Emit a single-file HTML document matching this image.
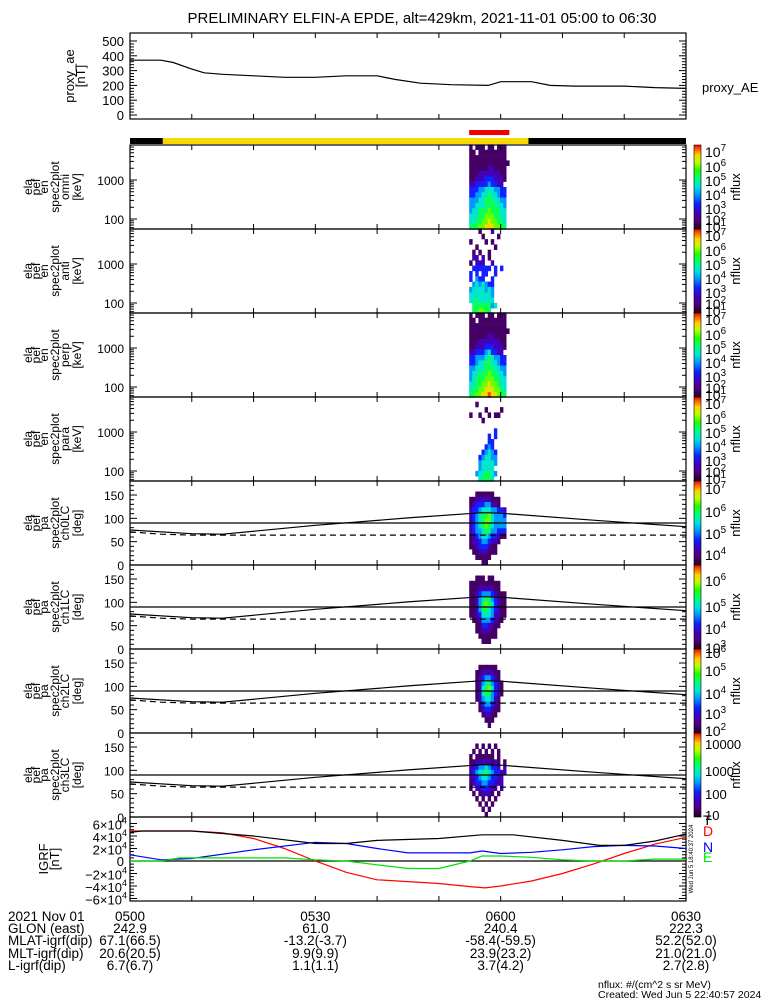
<!DOCTYPE html>
<html><head><meta charset="utf-8"><style>
html,body{margin:0;padding:0;background:#fff}
svg{display:block;font-family:"Liberation Sans",sans-serif}
</style></head><body>
<svg id="c" width="775" height="1000" viewBox="0 0 775 1000" xmlns="http://www.w3.org/2000/svg">
<defs>
<linearGradient id="cb" x1="0" y1="1" x2="0" y2="0">
<stop offset="0" stop-color="#1a0018"/><stop offset="0.1" stop-color="#50007a"/><stop offset="0.2" stop-color="#4000c0"/>
<stop offset="0.3" stop-color="#1020ff"/><stop offset="0.4" stop-color="#0090ff"/><stop offset="0.5" stop-color="#00e0e0"/>
<stop offset="0.6" stop-color="#00ff80"/><stop offset="0.7" stop-color="#20ff00"/><stop offset="0.8" stop-color="#c0ff00"/>
<stop offset="0.88" stop-color="#ffd000"/><stop offset="0.94" stop-color="#ff7000"/><stop offset="1" stop-color="#ff0000"/>
</linearGradient>
</defs>
<text x="422" y="23" font-size="15" text-anchor="middle">PRELIMINARY ELFIN-A EPDE, alt=429km, 2021-11-01 05:00 to 06:30</text>
</svg>
<script>
// ---------- data ----------
const aeTimes = [0,5,7,10,12,15,20,25,30,35,40,43,47,52,58,60,65,68,72,80,85,90];
const aeValues = [370,370,355,310,285,275,265,255,255,265,265,240,215,205,200,225,225,200,195,195,185,180];
const aeTicks = [0,100,200,300,400,500];

const specTimes = [54.9,55.4,55.9,56.4,56.9,57.4,57.9,58.4,58.9,59.4,59.9,60.4,60.9];
const energies = [6990,5100,3720,2720,1990,1450,1060,775,566,414,302,221,161,118,86,63];
const pitchAngles = [174.4,163.1,151.9,140.6,129.4,118.1,106.9,95.6,84.4,73.1,61.9,50.6,39.4,28.1,16.9,5.6];
const energyTicks = [100,1000];
const paTicks = [0,50,100,150];

const omniLevels = ["1011101101110","1101111111110","1111111111110","1111111111111","1111112211110","1112222222110","1122233322210","2233334332200","3334455544330","3344556554330","4445566655440","4455566665540","4556667666550","5556677766550","5566778776650","6667788877660"];
const antiLevels = ["0001000200000","0000100001000","1000010100000","0010000010000","0101001000000","0220201000000","1022200200000","0333333030300","3030330030000","3043300300000","0454543300000","4555545400000","5555555400000","5565555500000","0666666450000","0667766000000"];
const perpLevels = ["1011101101110","1101111111110","1111111111110","1111111111111","1111112211110","1112222222110","1122233322210","2233345332200","3344456544330","3345566554330","4455566655440","4556667665540","4566677766550","5566778776550","5667788877650","6677889887660"];
const paraLevels = ["0000000000000","0010000000000","0000010000100","1001001011000","0000100000000","0000000000000","0000000030000","0000003030000","0000003300000","0000034300000","0000345430000","0003455440000","0004555540000","0004555500000","0045566540000","0005666500000"];
const ch0Levels = ["0000000000000","0000000000000","0011111100000","1122222111000","1233344221000","2334555443320","2345667544430","2345677544440","2345676544440","2344566443330","1234554332110","1223443221000","1123332110000","0112221110000","0011111000000","0000110000000"];
const ch1Levels = ["0000000000000","0000000000000","0011101100000","1111111111000","1112222211000","1123444321110","1124566432110","1124676532110","1124665432110","1123555422110","0112444321100","0011332211000","0011222110000","0001111110000","0000111000000","0000000000000"];
const ch2Levels = ["0000000000000","0000000000000","0000000000000","0001111110000","0011222211000","0012344321000","0012456432100","0012567532100","0012566432100","0012455421000","0001344321000","0001233211000","0000122110000","0000011100000","0000001000000","0000000000000"];
const ch3Levels = ["0000000000000","0000000000000","0010101010000","0101010101000","1011111101000","1122222121010","2234454332020","2345565433220","2234554332200","1233443322200","1022332220200","0101222101000","0010101010000","0001010100000","0000101000000","0000010000000"];

const lcTimes = [0,10,15,30,45,57,60,75,90];
const lcValues = [75,67,66,85,101,112,111,96,82];
const alcTimes = [0,5,10,90];
const alcValues = [71,66,64,64];

const igrfTimes = [0,2,10,20,30,35,40,50,57,62,70,76,80,85,90];
const igrfT = [4.6,4.8,4.8,4.0,2.8,2.8,3.3,3.6,4.2,4.2,3.3,2.5,2.5,3.2,4.3];
const dTimes = [0,10,15,20,25,30,35,40,45,50,55,57.5,60,65,70,75,80,85,90];
const igrfD = [4.8,4.8,4.5,3.6,2.0,0,-1.8,-3.0,-3.3,-3.6,-4.1,-4.3,-4.0,-3.2,-2.0,-0.5,1.2,2.7,3.8];
const nTimes = [0,5,10,20,30,35,40,45,50,55,57,60,65,70,75,80,85,90];
const igrfN = [1.0,0.2,0.4,1.8,3.0,2.8,2.0,1.3,1.3,1.3,1.6,1.2,1.4,1.8,2.3,2.5,2.4,2.0];
const eTimes = [0,5,8,15,25,30,35,40,45,50,55,57,60,65,70,75,80,85,90];
const igrfE = [0,0,0.5,0.5,0.5,0.2,0,-0.6,-1.2,-1.2,0,0.8,0.8,0.6,0.2,0,0,0.3,0.3];
const igrfTicks = [-6,-4,-2,0,2,4,6];

const footLabels = ["2021 Nov 01","GLON (east)","MLAT-igrf(dip)","MLT-igrf(dip)","L-igrf(dip)"];
const footTimes = [0,30,60,90];
const footCols = [
 ["0500","242.9","67.1(66.5)","20.6(20.5)","6.7(6.7)"],
 ["0530","61.0","-13.2(-3.7)","9.9(9.9)","1.1(1.1)"],
 ["0600","240.4","-58.4(-59.5)","23.9(23.2)","3.7(4.2)"],
 ["0630","222.3","52.2(52.0)","21.0(21.0)","2.7(2.8)"]];

// ---------- helpers ----------
const svg = document.getElementById('c');
const NS = 'http://www.w3.org/2000/svg';
function mk(tag, attrs, parent){ const e=document.createElementNS(NS,tag); for(const k in attrs) e.setAttribute(k,attrs[k]); (parent||svg).appendChild(e); return e; }
const X0=130, X1=686;
function xT(t){ return X0 + t*(X1-X0)/90; }
const PH=84;
const panelTops=[145,229,313,397,481,565,649,733];
function yE(p,E){ return panelTops[p]+74-39*(Math.log10(E)-2); }
function yPA(p,a){ return panelTops[p]+PH-a*PH/180; }
function yAE(v){ return 115 - v*0.148; }
function yIG(v){ return 861 - v*6.25; }
const stops=[[0,[26,0,24]],[0.1,[80,0,122]],[0.2,[64,0,192]],[0.3,[16,32,255]],[0.4,[0,144,255]],[0.5,[0,224,224]],[0.6,[0,255,128]],[0.7,[32,255,0]],[0.8,[192,255,0]],[0.88,[255,208,0]],[0.94,[255,112,0]],[1,[255,0,0]]];
function cmap(f){ for(let i=1;i<stops.length;i++){ if(f<=stops[i][0]){ const a=stops[i-1],b=stops[i]; const u=(f-a[0])/(b[0]-a[0]); const c=a[1].map((v,k)=>Math.round(v+(b[1][k]-v)*u)); return 'rgb('+c.join(',')+')'; } } return 'rgb(255,0,0)'; }
function polyline(ts,vs,yf,color,name,dash){ const pts=ts.map((t,i)=>xT(t).toFixed(1)+','+yf(vs[i]).toFixed(1)).join(' '); const e=mk('polyline',{points:pts,fill:'none',stroke:color,'stroke-width':1.2}); if(dash) e.setAttribute('stroke-dasharray',dash);
 
 
 return e; }
function sup(parent,x,y,base,exp,anchor,size){ const t=mk('text',{x:x,y:y,'font-size':size||13,'text-anchor':anchor||'start'},parent); t.appendChild(document.createTextNode(base)); const s=mk('tspan',{dy:-6,'font-size':(size||13)*0.7},t); s.textContent=exp; return t; }
function leftLabel(lines,cy,xs,size,name){ const g=mk('g',{});   lines.forEach((l,i)=>{ const t=mk('text',{x:0,y:0,'font-size':size,'text-anchor':'middle',transform:'translate('+xs[i]+','+cy+') rotate(-90)'},g); t.textContent=l; }); }
function frame(top,h,name){ const r=mk('rect',{x:X0,y:top,width:X1-X0,height:h,fill:'none',stroke:'#000','stroke-width':1.2});
 
 
 for(let t=10;t<90;t+=10){ mk('line',{x1:xT(t),x2:xT(t),y1:top,y2:top+5,stroke:'#000'}); mk('line',{x1:xT(t),x2:xT(t),y1:top+h,y2:top+h-5,stroke:'#000'}); } }
function ytick(y,len){ mk('line',{x1:X0,x2:X0+len,y1:y,y2:y,stroke:'#000'}); mk('line',{x1:X1,x2:X1-len,y1:y,y2:y,stroke:'#000'}); }

// ---------- proxy AE panel ----------
frame(33,86,'proxy-ae-panel');
for(let v=0;v<=500;v+=20){ ytick(yAE(v), v%100===0?7:4); }
aeTicks.forEach(v=>{ const t=mk('text',{x:124,y:yAE(v)+5,'font-size':13,'text-anchor':'end'}); t.textContent=v;
 
  });
polyline(aeTimes,aeValues,yAE,'#000','proxy-ae-line');
leftLabel(['proxy_ae','[nT]'],76,[74,85],13,'proxy-ae-axis-title');
{ const t=mk('text',{x:702,y:92,'font-size':13}); t.textContent='proxy_AE';   }

// ---------- orbit bar ----------
{ const r1=mk('rect',{x:X0,y:138,width:X1-X0,height:6,fill:'#000'});  
  const r2=mk('rect',{x:xT(5.3),y:138,width:xT(64.5)-xT(5.3),height:6,fill:'#f8d800'});  
  const r3=mk('rect',{x:xT(specTimes[0]),y:130,width:xT(specTimes[12]+0.5)-xT(specTimes[0]),height:5,fill:'#f00000'});   }

// ---------- spectrogram panels ----------
const eCb=[[7,3],[6,18],[5,32],[4,46],[3,60],[2,71],[1,78]];
const specPanels=[
 {lv:omniLevels,kind:'E',lab:['ela','pef','en','spec2plot','omni','[keV]'],cb:eCb,name:'omni'},
 {lv:antiLevels,kind:'E',lab:['ela','pef','en','spec2plot','anti','[keV]'],cb:eCb,name:'anti'},
 {lv:perpLevels,kind:'E',lab:['ela','pef','en','spec2plot','perp','[keV]'],cb:eCb,name:'perp'},
 {lv:paraLevels,kind:'E',lab:['ela','pef','en','spec2plot','para','[keV]'],cb:eCb,name:'para'},
 {lv:ch0Levels,kind:'P',lab:['ela','pef','pa','spec2plot','ch0LC','[deg]'],cb:[[7,4],[6,27],[5,49],[4,70]],name:'ch0'},
 {lv:ch1Levels,kind:'P',lab:['ela','pef','pa','spec2plot','ch1LC','[deg]'],cb:[[6,12],[5,38],[4,60],[3,79]],name:'ch1'},
 {lv:ch2Levels,kind:'P',lab:['ela','pef','pa','spec2plot','ch2LC','[deg]'],cb:[[6,0],[5,18],[4,41],[3,61],[2,78]],name:'ch2'},
 {lv:ch3Levels,kind:'P',lab:['ela','pef','pa','spec2plot','ch3LC','[deg]'],cb:[['10000',11],['1000',38],['100',61],['10',82]],name:'ch3'}];

specPanels.forEach((P,p)=>{
 const top=panelTops[p];
 const g=mk('g',{});
 
 
 const rows = P.kind==='E'?energies:pitchAngles;
 P.lv.forEach((row,ri)=>{
  let y1,y2;
  if(P.kind==='E'){ y1=yE(p,rows[ri]*Math.pow(10,0.0685)); y2=yE(p,rows[ri]/Math.pow(10,0.0685)); }
  else { y1=yPA(p,rows[ri]+5.625); y2=yPA(p,rows[ri]-5.625); }
  for(let ci=0;ci<row.length;ci++){ const L=+row[ci]; if(!L) continue;
   const x1=xT(specTimes[ci]), x2=xT(specTimes[ci]+0.5);
   const c=mk('rect',{x:x1.toFixed(1),y:y1.toFixed(1),width:(x2-x1+0.3).toFixed(1),height:(y2-y1+0.3).toFixed(1),fill:cmap((L-0.3)/9)},g);
   
    }
 });
 frame(top,PH,'panel-'+P.name);
 if(P.kind==='E'){
  for(let d=1;d<=3;d++) for(let m=1;m<=9;m++){ const E=m*Math.pow(10,d); const y=yE(p,E); if(y<top||y>top+PH) continue; ytick(y, m===1?7:4); }
  energyTicks.forEach(E=>{ const t=mk('text',{x:124,y:yE(p,E)+5,'font-size':12,'text-anchor':'end'}); t.textContent=E;   });
 } else {
  for(let a=0;a<=180;a+=10) ytick(yPA(p,a), a%50===0?7:4);
  paTicks.forEach(a=>{ const t=mk('text',{x:124,y:yPA(p,a)+5,'font-size':12,'text-anchor':'end'}); t.textContent=a;   });
  const h=mk('line',{x1:X0,x2:X1,y1:yPA(p,90),y2:yPA(p,90),stroke:'#000','stroke-width':1.2});  
  polyline(lcTimes,lcValues,a=>yPA(p,a),'#000','loss-cone-line');
  polyline(alcTimes,alcValues,a=>yPA(p,a),'#000','anti-loss-cone-line','6,4');
 }
 leftLabel(P.lab, top+42, [32,40,48,59,69,81], 12, 'y-axis-title-'+P.name);
 const cbr=mk('rect',{x:694,y:top,width:7,height:PH,fill:'url(#cb)',stroke:'#000','stroke-width':0.6});
 
 
 P.cb.forEach(([e,dy])=>{ let t; if(typeof e==='string'){ t=mk('text',{x:705,y:top+dy+5,'font-size':13}); t.textContent=e; } else t=sup(svg,705,top+dy+9,'10',e,'start',14);
  
   });
 const nf=mk('text',{x:0,y:0,'font-size':13,'text-anchor':'middle',transform:'translate(740,'+(top+42)+') rotate(-90)'});
 nf.textContent='nflux';
 
 
});

// ---------- IGRF panel ----------
frame(817,84,'igrf-panel');
for(let v=-6;v<=6;v+=0.5) ytick(yIG(v), v%2===0?7:4);
mk('line',{x1:X0,x2:X1,y1:yIG(0),y2:yIG(0),stroke:'#000','stroke-width':1.2});
igrfTicks.forEach(v=>{ let t; if(v===0){ t=mk('text',{x:124,y:yIG(0)+5,'font-size':13,'text-anchor':'end'}); t.textContent='0'; } else t=sup(svg,127,yIG(v)+6,(v<0?'\u2212':'')+Math.abs(v)+'\u00d710','4','end',13);
 
  });
polyline(dTimes,igrfD,yIG,'#ff0000','igrf-d-line');
polyline(nTimes,igrfN,yIG,'#0000ff','igrf-n-line');
polyline(eTimes,igrfE,yIG,'#00e000','igrf-e-line');
polyline(igrfTimes,igrfT,yIG,'#000','igrf-t-line');
leftLabel(['IGRF','[nT]'],859,[48,59],13,'igrf-axis-title');
[['T','#000',825],['D','#ff0000',836],['N','#0000ff',852],['E','#00e000',862]].forEach(([s,c,y])=>{ const t=mk('text',{x:703,y:y,'font-size':14,fill:c}); t.textContent=s;   });
{ const t=mk('text',{x:0,y:0,'font-size':6,'text-anchor':'middle',transform:'translate(693,859) rotate(-90)'}); t.textContent='Wed Jun  5 18:40:37 2024';   }

// ---------- footer ----------
const rowY=[921,933,945,958,970];
footLabels.forEach((l,i)=>{ const t=mk('text',{x:8,y:rowY[i],'font-size':13.5}); t.textContent=l;   });
footCols.forEach((col,ci)=>{ col.forEach((v,ri)=>{ const t=mk('text',{x:xT(footTimes[ci]),y:rowY[ri],'font-size':13.5,'text-anchor':'middle'}); t.textContent=v;   }); });
{ const t=mk('text',{x:598,y:988,'font-size':10.5}); t.textContent='nflux: #/(cm^2 s sr MeV)';  
  const t2=mk('text',{x:598,y:998,'font-size':10.5}); t2.textContent='Created: Wed Jun  5 22:40:57 2024';   }
</script>
</body></html>
